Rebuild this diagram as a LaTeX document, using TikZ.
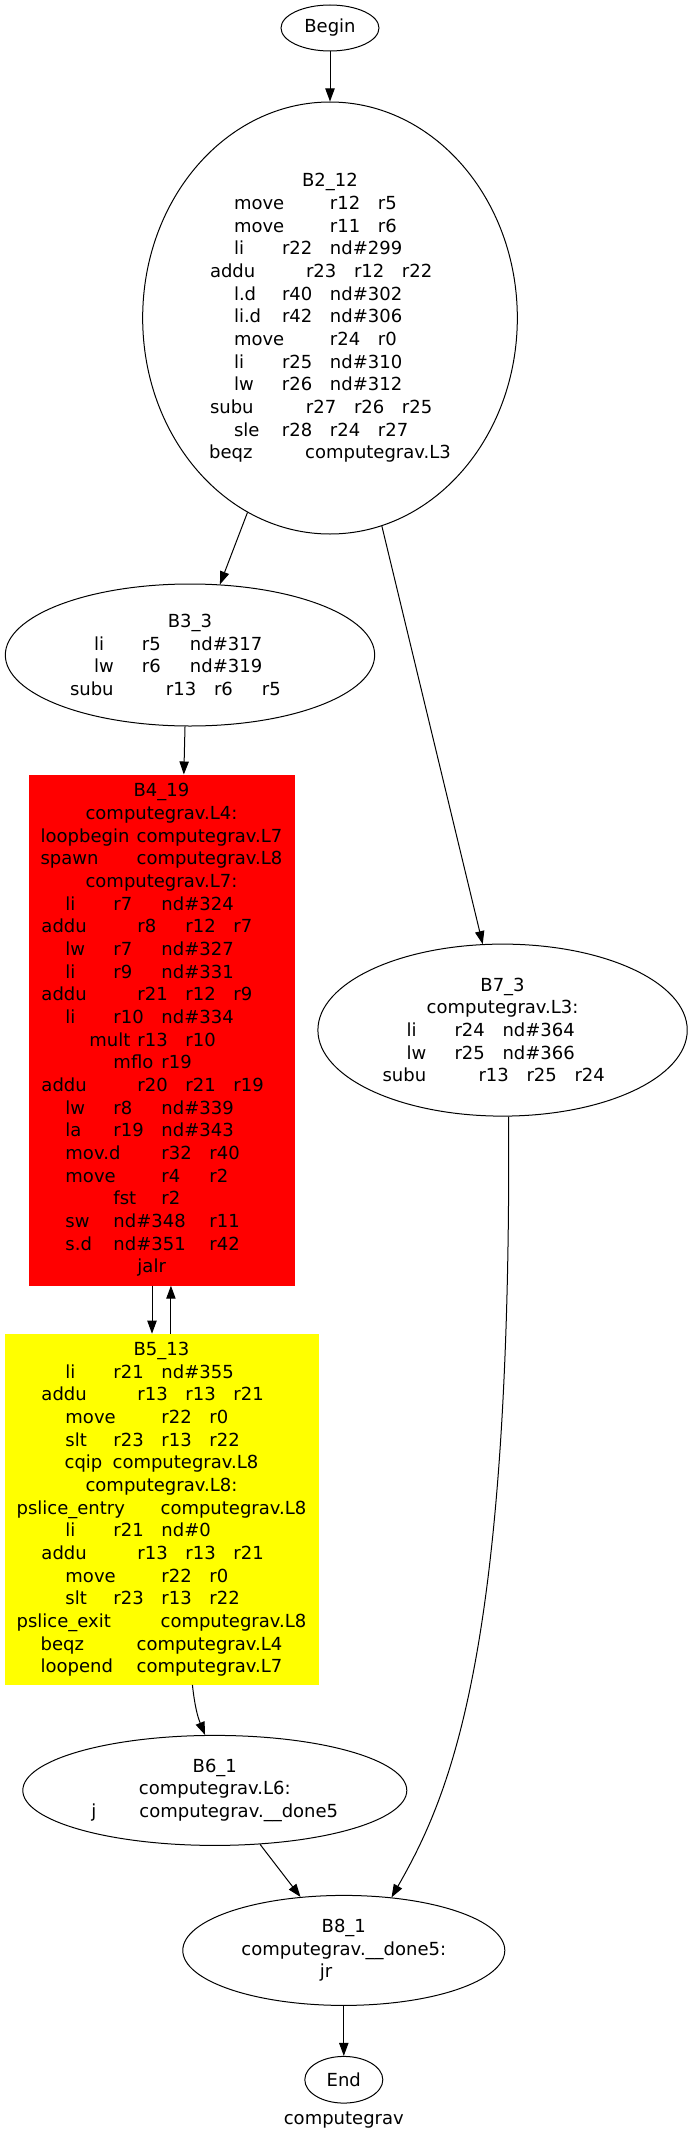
\documentclass[tikz,border=0pt]{standalone}
\usepackage{fontspec}
\setmainfont{DejaVu Sans}
\usepackage{xcolor}
\usepackage{tikz}
\usetikzlibrary{positioning, arrows.meta, shapes.geometric}
\definecolor{loopred}{RGB}{255,0,0}
\definecolor{sliceyellow}{RGB}{255,255,0}
\newlength\tabw
\setlength\tabw{36pt}
\newcommand{\fld}[2]{\makebox[#1\tabw][l]{#2}}

\begin{document}
\begin{tikzpicture}[x=0.75pt, y=0.75pt,
			term/.style={ellipse, draw, line width=0.75pt, minimum width=73.5pt, minimum height=34.5pt, inner sep=0pt},
			block/.style={ellipse, draw, line width=0.75pt, inner sep=0pt, align=center},
			loopblock/.style={rectangle, draw=loopred, fill=loopred, inner sep=0pt, align=center, minimum width=199pt, minimum height=383pt},
			sliceblock/.style={rectangle, draw=sliceyellow, fill=sliceyellow, inner sep=0pt, align=center, minimum width=235pt, minimum height=263pt},
			edge/.style={-{Triangle[length=9.75pt, width=7pt]}, line width=0.75pt},
			font=\fontsize{13.5}{17}\selectfont
			]
			\useasboundingbox (0,0) rectangle (691,-2137);
			\node[term] (start) at (330,-28) {Begin};
			\node[block, minimum width=281pt, minimum height=324pt, below=37.5pt of start] (b2) {B2\_12\\
				\fld2{move}\fld1{r12}\fld1{r5}\\
				\fld2{move}\fld1{r11}\fld1{r6}\\
				\fld1{li}\fld1{r22}\fld2{nd\#299}\\
				\fld2{addu}\fld1{r23}\fld1{r12}\fld1{r22}\\
				\fld1{l.d}\fld1{r40}\fld2{nd\#302}\\
				\fld1{li.d}\fld1{r42}\fld2{nd\#306}\\
				\fld2{move}\fld1{r24}\fld1{r0}\\
				\fld1{li}\fld1{r25}\fld2{nd\#310}\\
				\fld1{lw}\fld1{r26}\fld2{nd\#312}\\
				\fld2{subu}\fld1{r27}\fld1{r26}\fld1{r25}\\
				\fld1{sle}\fld1{r28}\fld1{r24}\fld1{r27}\\
				\fld2{beqz}computegrav.L3};
			\node[block, minimum width=277pt, minimum height=106.5pt, below=36.75pt of b2, xshift=-105pt] (b3) {B3\_3\\
				\fld1{li}\fld1{r5}\fld2{nd\#317}\\
				\fld1{lw}\fld1{r6}\fld2{nd\#319}\\
				\fld2{subu}\fld1{r13}\fld1{r6}\fld1{r5}};
			\node[loopblock, below=36pt of b3, xshift=-21.4pt] (b4) {B4\_19\\
				computegrav.L4:\\
				\fld2{loopbegin}computegrav.L7\\
				\fld2{spawn}computegrav.L8\\
				computegrav.L7:\\
				\fld1{li}\fld1{r7}\fld2{nd\#324}\\
				\fld2{addu}\fld1{r8}\fld1{r12}\fld1{r7}\\
				\fld1{lw}\fld1{r7}\fld2{nd\#327}\\
				\fld1{li}\fld1{r9}\fld2{nd\#331}\\
				\fld2{addu}\fld1{r21}\fld1{r12}\fld1{r9}\\
				\fld1{li}\fld1{r10}\fld2{nd\#334}\\
				\fld1{mult}\fld1{r13}\fld1{r10}\\
				\fld1{mflo}\fld1{r19}\\
				\fld2{addu}\fld1{r20}\fld1{r21}\fld1{r19}\\
				\fld1{lw}\fld1{r8}\fld2{nd\#339}\\
				\fld1{la}\fld1{r19}\fld2{nd\#343}\\
				\fld2{mov.d}\fld1{r32}\fld1{r40}\\
				\fld2{move}\fld1{r4}\fld1{r2}\\
				\fld1{fst}\fld1{r2}\\
				\fld1{sw}\fld2{nd\#348}\fld1{r11}\\
				\fld1{s.d}\fld2{nd\#351}\fld1{r42}\\
				\fld1{jalr}};
			\node[block, minimum width=277pt, minimum height=129pt, right=17.25pt of b4] (b7) {B7\_3\\
				computegrav.L3:\\
				\fld1{li}\fld1{r24}\fld2{nd\#364}\\
				\fld1{lw}\fld1{r25}\fld2{nd\#366}\\
				\fld2{subu}\fld1{r13}\fld1{r25}\fld1{r24}};
			\node[sliceblock, below=36pt of b4] (b5) {B5\_13\\
				\fld1{li}\fld1{r21}\fld2{nd\#355}\\
				\fld2{addu}\fld1{r13}\fld1{r13}\fld1{r21}\\
				\fld2{move}\fld1{r22}\fld1{r0}\\
				\fld1{slt}\fld1{r23}\fld1{r13}\fld1{r22}\\
				\fld1{cqip}computegrav.L8\\
				computegrav.L8:\\
				\fld3{pslice\_entry}computegrav.L8\\
				\fld1{li}\fld1{r21}\fld2{nd\#0}\\
				\fld2{addu}\fld1{r13}\fld1{r13}\fld1{r21}\\
				\fld2{move}\fld1{r22}\fld1{r0}\\
				\fld1{slt}\fld1{r23}\fld1{r13}\fld1{r22}\\
				\fld3{pslice\_exit}computegrav.L8\\
				\fld2{beqz}computegrav.L4\\
				\fld2{loopend}computegrav.L7};
			\node[block, minimum width=288pt, minimum height=82.5pt, below=37.5pt of b5, xshift=40pt] (b6) {B6\_1\\
				computegrav.L6:\\
				\fld1{j}computegrav.\_\_done5};
			\node[block, minimum width=241.5pt, minimum height=82.5pt, below=36.75pt of b6, xshift=96.75pt] (b8) {B8\_1\\
				computegrav.\_\_done5:\\
				\fld1{jr}};
			\node[term, minimum width=58.5pt, minimum height=35pt, below=37.5pt of b8] (stop) {End};
			\node[inner sep=0pt, below=6pt of stop] (title) {computegrav};
			\draw[edge] (start) -- (b2);
			\draw[edge] (b2.247) -- (b3.67);
			\draw[edge] (b2.284) -- (b7.103.6);
			\draw[edge] (b3.266) -- (b4.85.4);
			\draw[edge] ([xshift=-7.1pt]b4.south) -- ([xshift=-7.1pt]b5.north);
			\draw[edge] ([xshift=7.1pt]b5.north) -- ([xshift=7.1pt]b4.south);
			\draw[edge] (b5.280.8) to[bend right=8] (b6.100.3);
			\draw[edge] (b6.310) -- (b8.129);
			\draw[edge] (b7.274) .. controls +(3,-536) and +(59,103) .. (b8.48.4);
			\draw[edge] (b8) -- (stop);
		\end{tikzpicture}
\end{document}
